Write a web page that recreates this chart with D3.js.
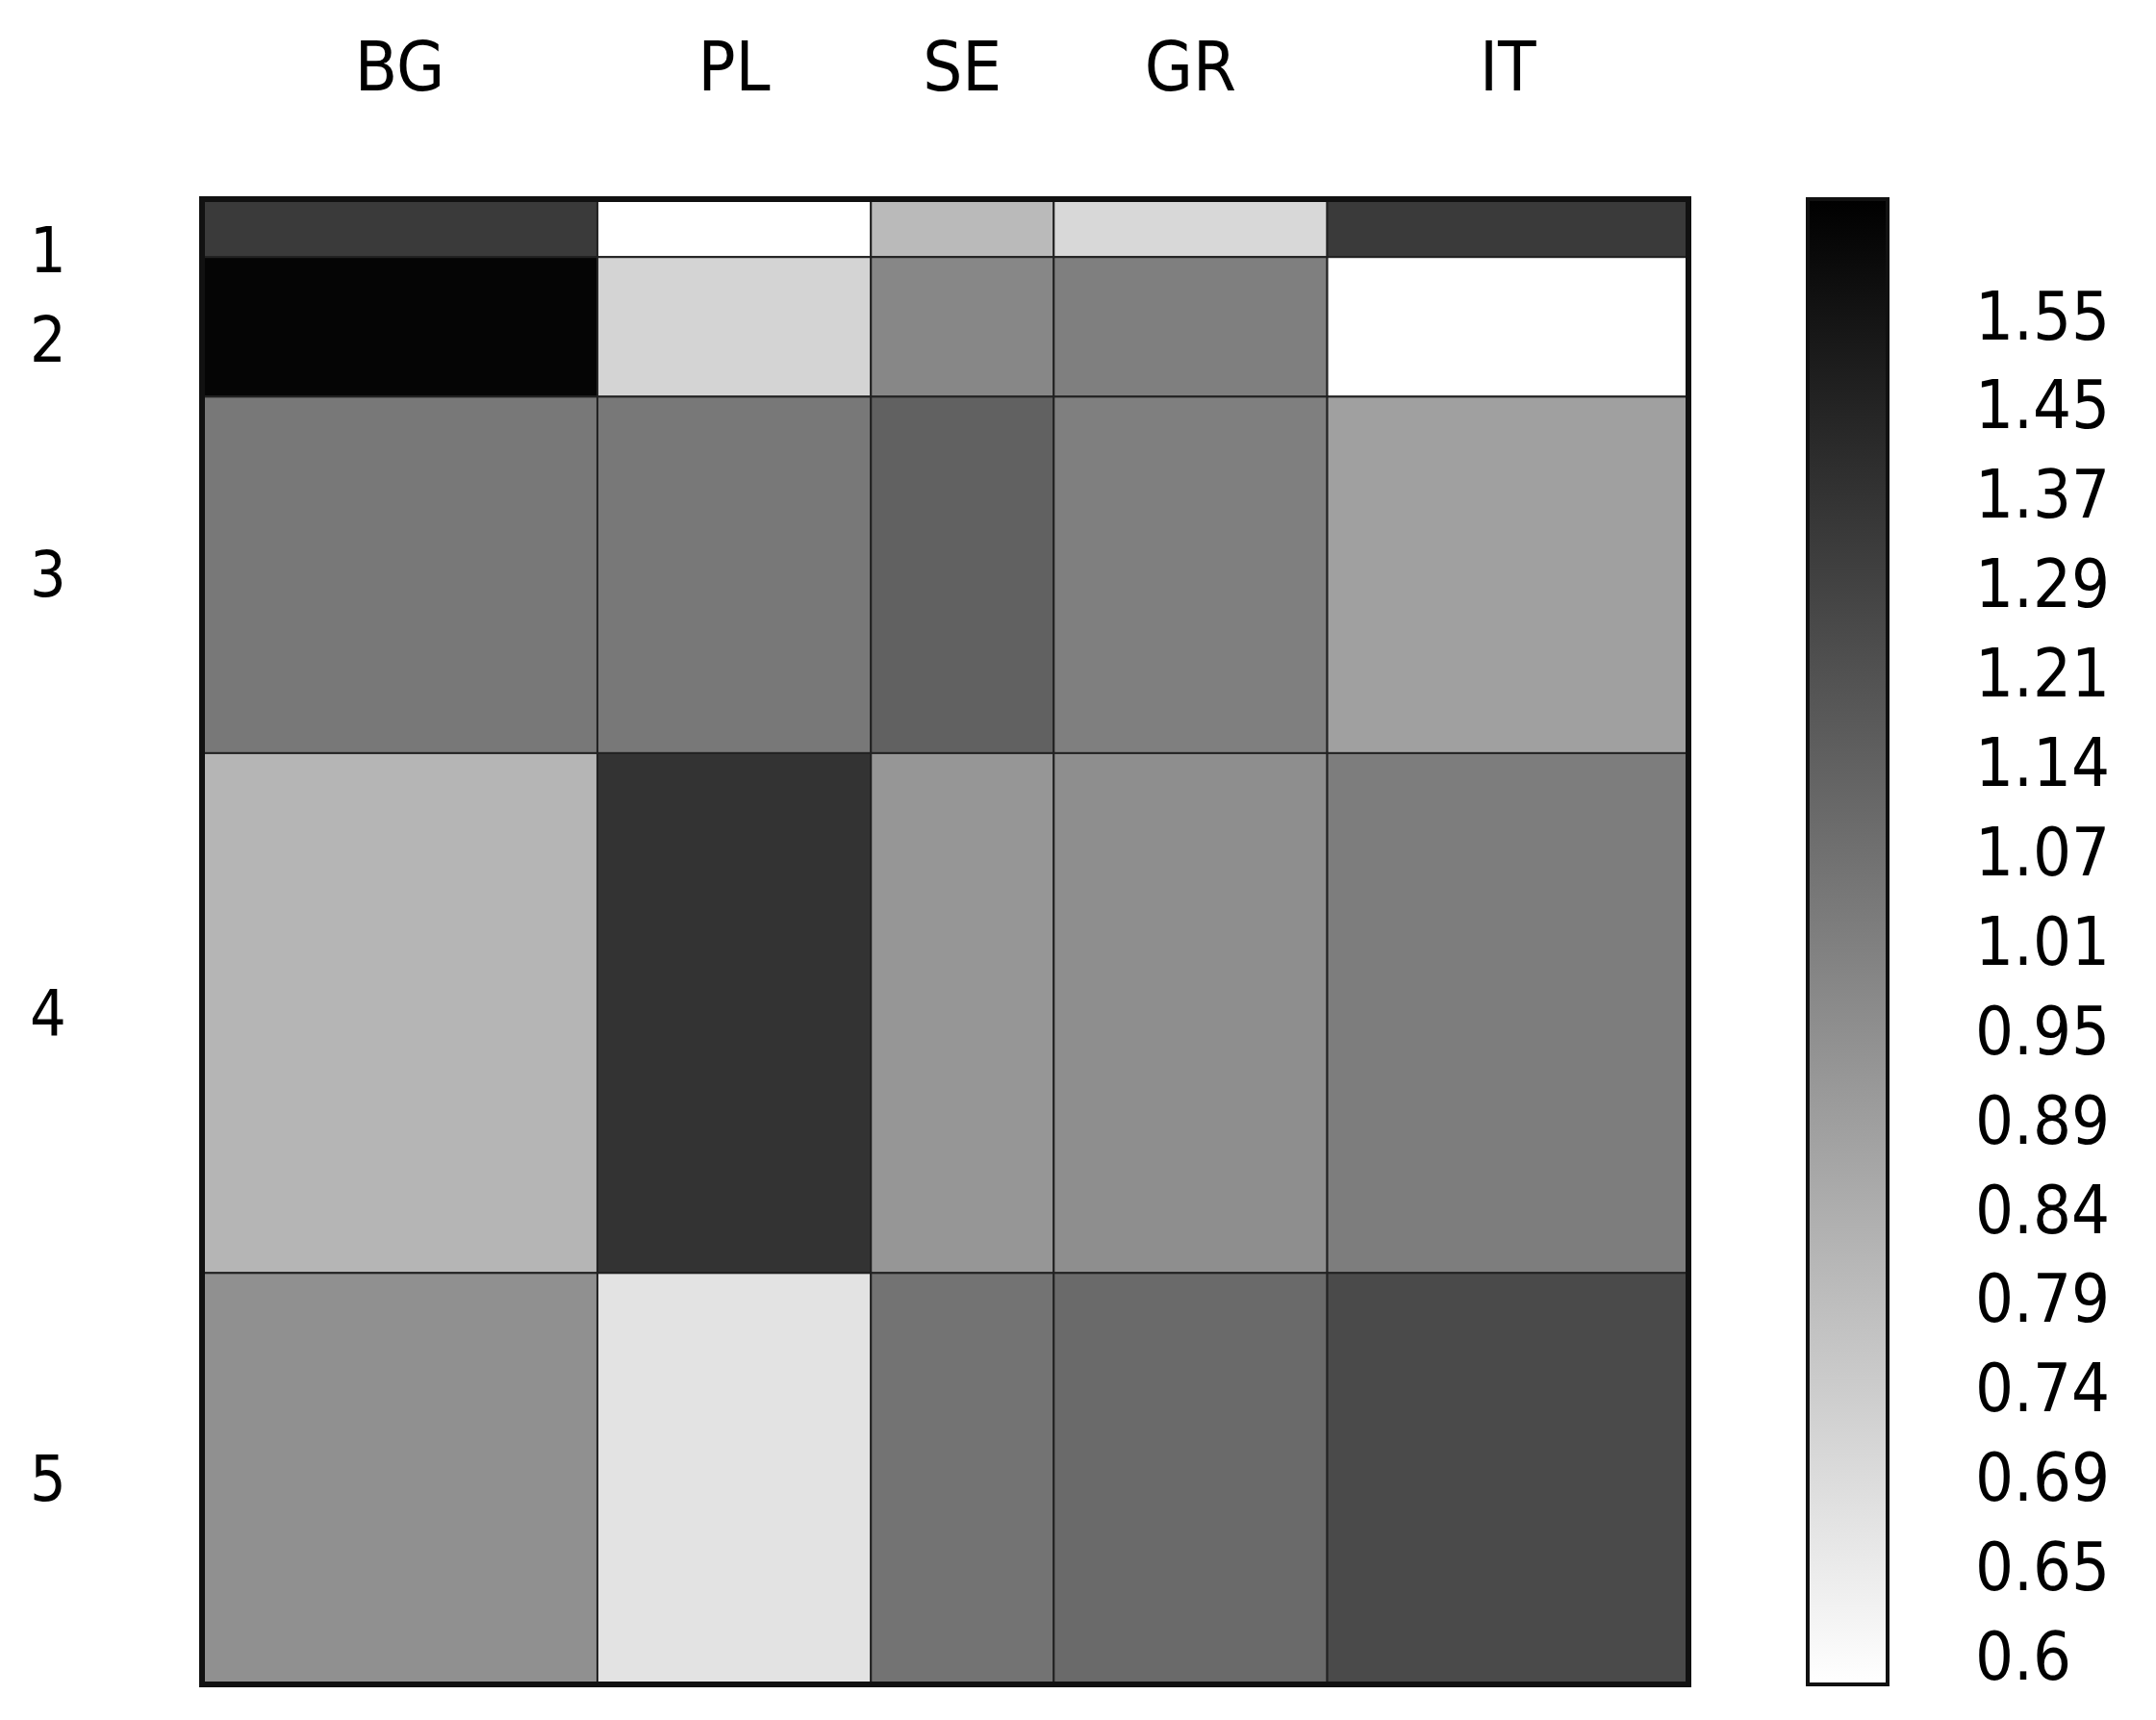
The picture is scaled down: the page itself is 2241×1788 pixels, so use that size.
<!DOCTYPE html>
<html><head><meta charset="utf-8">
<script src="https://cdn.jsdelivr.net/npm/d3@7"></script>
<style>body{margin:0;background:#fff}</style></head>
<body><svg id="c" width="2241" height="1788"></svg>
<script>
const columns = ["BG","PL","SE","GR","IT"];
const colWeights = [0.266,0.184,0.123,0.184,0.243];
const rows = ["1","2","3","4","5"];
const rowWeights = [0.039,0.094,0.240,0.350,0.277];
const values = [
  [1.33,0.58,0.80,0.70,1.33],
  [1.65,0.715,0.98,1.01,0.58],
  [1.04,1.04,1.14,1.01,0.885],
  [0.815,1.37,0.922,0.953,1.018],
  [0.945,0.67,1.06,1.10,1.25]
];
const legendTicks = [0.6,0.65,0.69,0.74,0.79,0.84,0.89,0.95,1.01,1.07,1.14,1.21,1.29,1.37,1.45,1.55];

const svg = d3.select("#c");
const font = "'DejaVu Sans Condensed', 'DejaVu Sans', sans-serif";
const L = 210, R = 1755, T = 207, B = 1751;

function cum(w){let s=0;const o=[0];w.forEach(v=>{s+=v;o.push(s)});return o.map(v=>v/s);}
const cx = cum(colWeights), cy = cum(rowWeights);
const xs = d3.scaleLinear().domain([0,1]).range([L,R]);
const ys = d3.scaleLinear().domain([0,1]).range([T,B]);

// legend position scale (index -> y), and lightness from position
const legTop = 207, legBot = 1751;
const tickY = d3.scaleLinear().domain([0,legendTicks.length-1]).range([1722, 1722-92.9*15]);
const posLight = d3.scaleLinear().domain([legTop,legBot]).range([0,1]).clamp(true);
const valToY = d3.scaleLinear().domain(legendTicks).range(legendTicks.map((_,i)=>tickY(i)));
function colorOf(v){const l=posLight(valToY(v)); const g=Math.round(l*255); return d3.rgb(g,g,g).toString();}

const cells=[];
values.forEach((r,i)=>r.forEach((v,j)=>cells.push({i,j,v})));
svg.selectAll("rect.cell").data(cells).enter().append("rect")
  .attr("x",d=>xs(cx[d.j])).attr("y",d=>ys(cy[d.i]))
  .attr("width",d=>xs(cx[d.j+1])-xs(cx[d.j])).attr("height",d=>ys(cy[d.i+1])-ys(cy[d.i]))
  .attr("fill",d=>colorOf(d.v)).attr("stroke","#222").attr("stroke-width",2);
svg.append("rect").attr("x",L).attr("y",T).attr("width",R-L).attr("height",B-T)
  .attr("fill","none").attr("stroke","#111").attr("stroke-width",6);

svg.selectAll("text.col").data(columns).enter().append("text")
  .attr("x",(d,j)=>(xs(cx[j])+xs(cx[j+1]))/2).attr("y",69)
  .attr("text-anchor","middle").attr("dominant-baseline","central")
  .attr("font-family",font).attr("font-size",72).text(d=>d);
const rowLabelY=[260,353,0,0,0];
svg.selectAll("text.row").data(rows).enter().append("text")
  .attr("x",50).attr("y",(d,i)=> i<2 ? rowLabelY[i] : (ys(cy[i])+ys(cy[i+1]))/2)
  .attr("text-anchor","middle").attr("dominant-baseline","central")
  .attr("font-family",font).attr("font-size",66).text(d=>d);

// legend gradient
const defs=svg.append("defs");
const grad=defs.append("linearGradient").attr("id","g").attr("x1",0).attr("x2",0).attr("y1",0).attr("y2",1);
grad.append("stop").attr("offset","0%").attr("stop-color","#000");
grad.append("stop").attr("offset","100%").attr("stop-color","#fff");
svg.append("rect").attr("x",1879).attr("y",legTop).attr("width",83).attr("height",legBot-legTop)
  .attr("fill","url(#g)").attr("stroke","#111").attr("stroke-width",4);
svg.selectAll("text.leg").data(legendTicks).enter().append("text")
  .attr("x",2053).attr("y",(d,i)=>tickY(i)).attr("dominant-baseline","central")
  .attr("font-family",font).attr("font-size",70).text(d=>d);
</script></body></html>
